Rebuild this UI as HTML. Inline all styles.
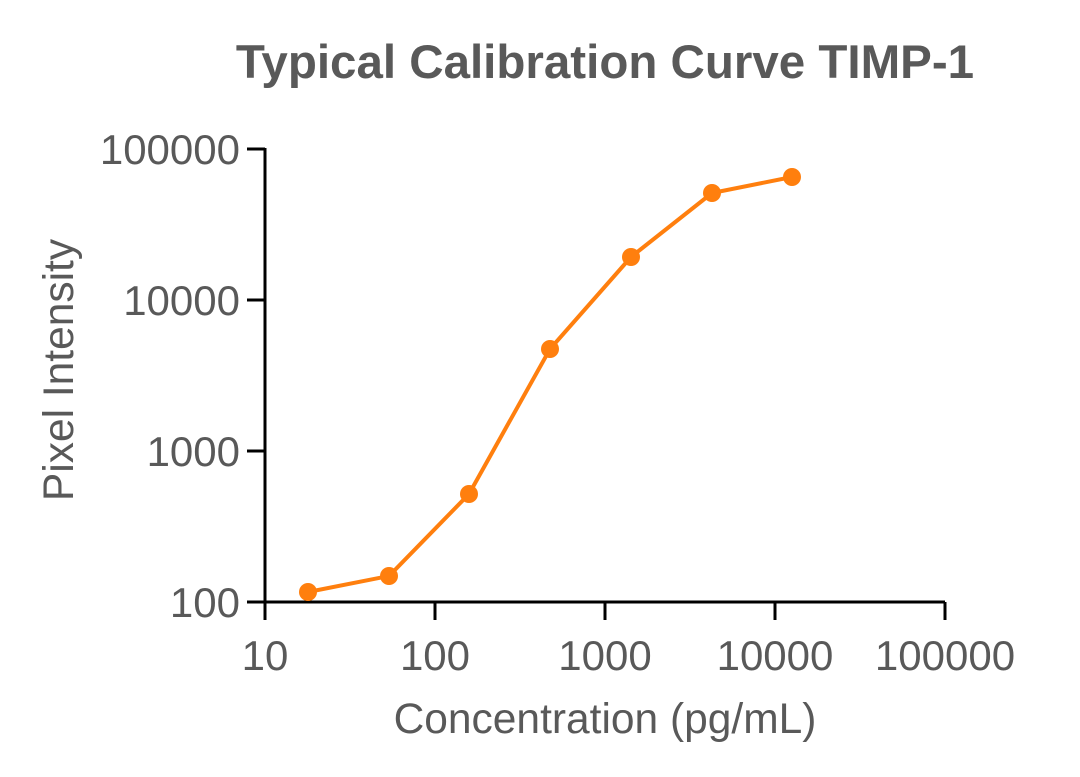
<!DOCTYPE html>
<html><head><meta charset="utf-8"><style>html,body{margin:0;padding:0;background:#fff}</style></head>
<body>
<svg width="1080" height="772" viewBox="0 0 1080 772" xmlns="http://www.w3.org/2000/svg" font-family="Liberation Sans, sans-serif">
<rect width="1080" height="772" fill="#fff"/>
<text x="605" y="78" text-anchor="middle" font-size="47.5" font-weight="bold" fill="#595959">Typical Calibration Curve TIMP-1</text>
<g stroke="#000" stroke-width="3" fill="none">
<path d="M265 148 V602 H945"/>
<path d="M247 149 H265 M247 300 H265 M247 451 H265 M247 602 H265"/>
<path d="M265 602 V620 M435 602 V620 M605 602 V620 M775 602 V620 M945 602 V620"/>
</g>
<g font-size="42" fill="#595959" text-anchor="end">
<text x="240" y="164">100000</text>
<text x="240" y="315">10000</text>
<text x="240" y="466">1000</text>
<text x="240" y="617">100</text>
</g>
<g font-size="42" fill="#595959" text-anchor="middle">
<text x="265" y="670">10</text>
<text x="435" y="670">100</text>
<text x="605" y="670">1000</text>
<text x="775" y="670">10000</text>
<text x="945" y="670">100000</text>
<text x="605" y="733" font-size="42.5">Concentration (pg/mL)</text>
<text transform="translate(73 370) rotate(-90)" font-size="42.5">Pixel Intensity</text>
</g>
<polyline points="308,592 389,576 469,494 550,349 631,257 712,193 792,177" fill="none" stroke="#ff7f0e" stroke-width="4"/>
<g fill="#ff7f0e">
<circle cx="308" cy="592" r="9"/><circle cx="389" cy="576" r="9"/><circle cx="469" cy="494" r="9"/>
<circle cx="550" cy="349" r="9"/><circle cx="631" cy="257" r="9"/><circle cx="712" cy="193" r="9"/><circle cx="792" cy="177" r="9"/>
</g>
</svg>
</body></html>
